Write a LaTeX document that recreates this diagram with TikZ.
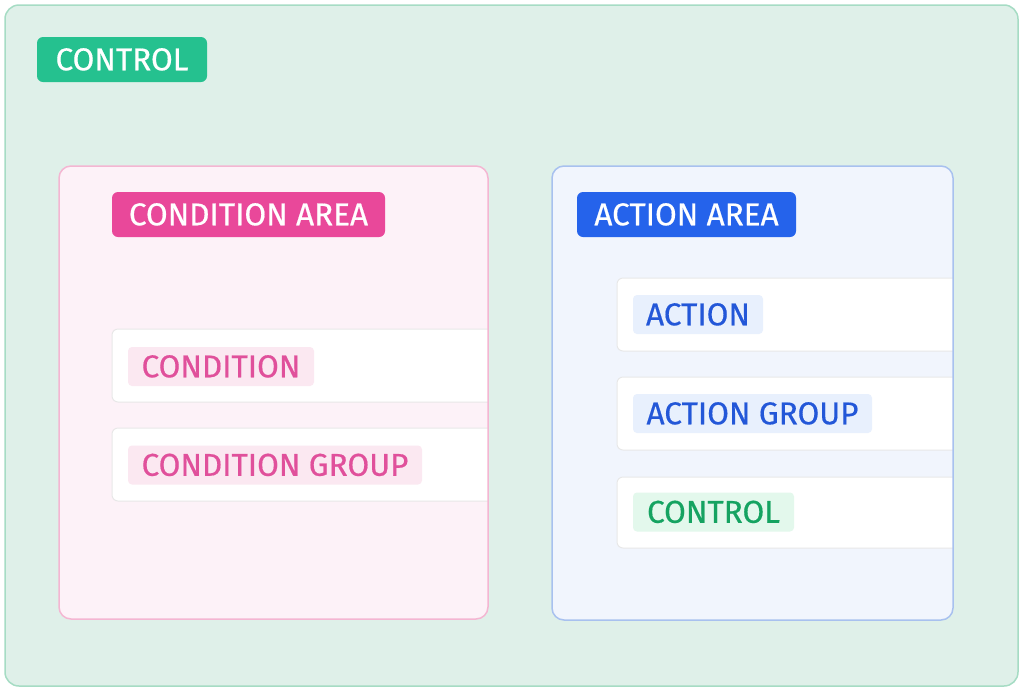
\documentclass[tikz,border=0pt]{standalone}
\usepackage{fontspec}
\setmainfont{Fira Sans}[FakeBold=0.5]
\usepackage{xcolor}
\usepackage{tikz}
\usetikzlibrary{positioning}

\definecolor{ctlbg}{HTML}{DFF0E9}
\definecolor{ctlline}{HTML}{A6DCC4}
\definecolor{ctlgreen}{HTML}{25C18F}
\definecolor{condbg}{HTML}{FDF2F8}
\definecolor{condline}{HTML}{F4B6D2}
\definecolor{condpink}{HTML}{E9489A}
\definecolor{condlbl}{HTML}{FBE8F1}
\definecolor{condtext}{HTML}{E0509B}
\definecolor{actbg}{HTML}{F1F5FD}
\definecolor{actline}{HTML}{A8C1EF}
\definecolor{actblue}{HTML}{2563EB}
\definecolor{actlbl}{HTML}{E8F0FD}
\definecolor{acttext}{HTML}{2357D8}
\definecolor{ctllbl}{HTML}{E3F8EC}
\definecolor{ctltext}{HTML}{15A361}
\definecolor{cardline}{HTML}{E8E8E8}

\begin{document}
\begin{tikzpicture}[x=1pt,y=-1pt, font=\fontsize{31.5}{36}\selectfont, line join=round]
	\useasboundingbox (0,0) rectangle (1024,691);
	
	% ===== styles =====
	\tikzset{
		tag/.style={rounded corners=6pt, inner sep=0pt, text=white, minimum height=45pt, text height=21.5pt, text depth=0pt},
		lbl/.style={rounded corners=4pt, inner sep=0pt, minimum height=39pt, text height=21.5pt, text depth=0pt},
		card/.style={draw=cardline, fill=white, rounded corners=6pt, line width=1pt},
		area/.style={rounded corners=12pt, line width=1.5pt}
	}
	
	% ===== khung ngoài =====
	\draw[area, rounded corners=14pt, draw=ctlline, fill=ctlbg] (5,5) rectangle (1018,686);
	\node[tag, fill=ctlgreen, minimum width=170pt] (ctltag) at (122,59.5) {CONTROL};
	
	% ===== condition area =====
	\fill[area, fill=condbg] (59,166) rectangle (488,619);
	\begin{scope}
		\clip[rounded corners=12pt] (59,166) rectangle (488,619);
		\draw[card] (112,329) rectangle (500,402);
		\draw[card] (112,428) rectangle (500,501);
	\end{scope}
	\draw[area, draw=condline] (59,166) rectangle (488,619);
	\node[tag, fill=condpink, minimum width=273pt] (condtag) at (248.5,214.5) {CONDITION AREA};
	\node[lbl, fill=condlbl, text=condtext, minimum width=186pt] (cond) at (221,366.5) {CONDITION};
	\node[lbl, fill=condlbl, text=condtext, minimum width=294pt] (condgrp) at (275,465) {CONDITION GROUP};
	
	% ===== action area =====
	\fill[area, fill=actbg] (552,166) rectangle (953,620);
	\begin{scope}
		\clip[rounded corners=12pt] (552,166) rectangle (953,620);
		\draw[card] (617,278) rectangle (965,351);
		\draw[card] (617,377) rectangle (965,450);
		\draw[card] (617,477) rectangle (965,548);
	\end{scope}
	\draw[area, draw=actline] (552,166) rectangle (953,620);
	\node[tag, fill=actblue, minimum width=219pt] (acttag) at (686.5,214.5) {ACTION AREA};
	\node[lbl, fill=actlbl, text=acttext, minimum width=130pt] (act) at (698,314.5) {ACTION};
	\node[lbl, fill=actlbl, text=acttext, minimum width=239pt] (actgrp) at (752.5,413.5) {ACTION GROUP};
	\node[lbl, fill=ctllbl, text=ctltext, minimum width=161pt] (ctl) at (713.5,512) {CONTROL};
\end{tikzpicture}
\end{document}
